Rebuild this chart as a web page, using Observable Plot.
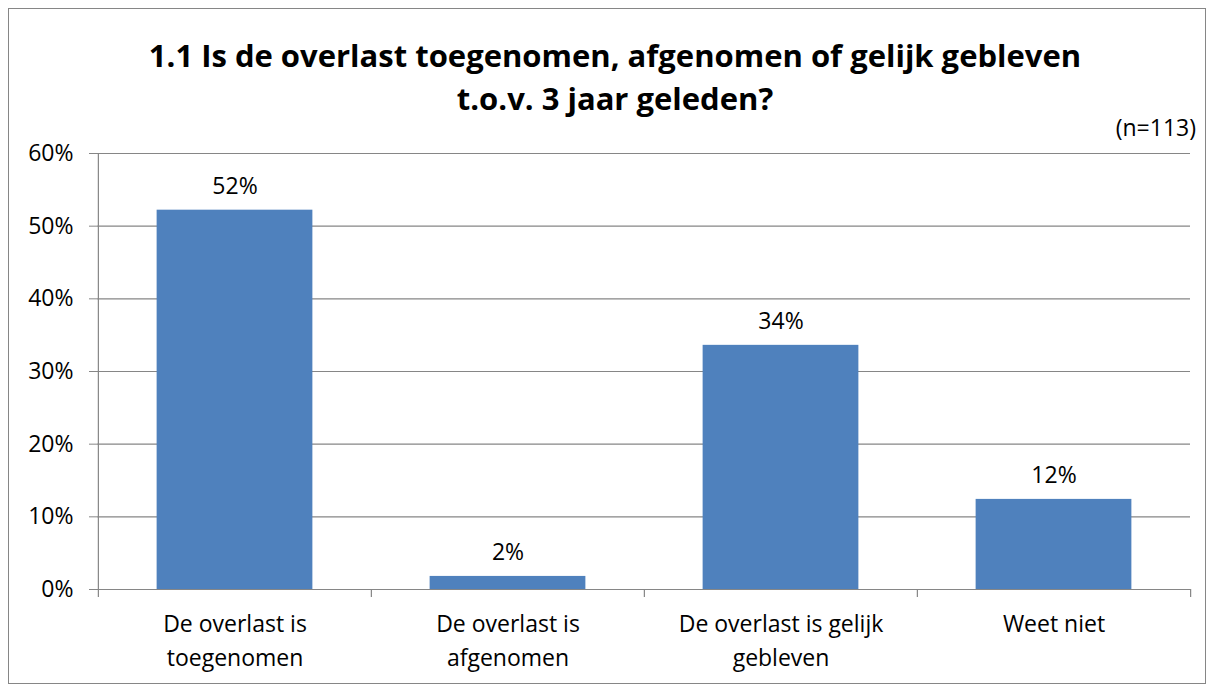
<!DOCTYPE html>
<html>
<head>
<meta charset="utf-8">
<script src="https://cdn.jsdelivr.net/npm/d3@7"></script>
<script src="https://cdn.jsdelivr.net/npm/@observablehq/plot@0.6"></script>
<style>
  body { margin: 0; background: #fff; font-family: "Open Sans", sans-serif; }
  #chart { position: relative; width: 1214px; height: 684px; overflow: hidden; background: #fff; }
  #head { position: relative; height: 120px; }
  #title { position: absolute; left: 16px; right: 0; top: 34px; text-align: center; font-weight: bold;
           font-size: 31px; line-height: 43px; color: #000; }
  #n { position: absolute; right: 18px; top: 112px; font-size: 23px; line-height: 30px; color: #000; z-index: 2; }
  #frame { position: absolute; left: 8px; top: 8px; width: 1198px; height: 676px; border: 1px solid #868686;
           box-sizing: border-box; pointer-events: none; }
  #plot { position: relative; z-index: 1; }
  svg { display: block; }
</style>
</head>
<body>
<div id="chart">
  <div id="head">
    <div id="title">1.1 Is de overlast toegenomen, afgenomen of gelijk gebleven<br>t.o.v. 3 jaar geleden?</div>
  </div>
  <div id="plot"></div>
  <div id="n">(n=113)</div>
  <div id="frame"></div>
</div>
<script>
// ---- data ----
const categories = ["toegenomen", "afgenomen", "gelijk gebleven", "weet niet"];
const categoryLabels = ["De overlast is\ntoegenomen", "De overlast is\nafgenomen", "De overlast is gelijk\ngebleven", "Weet niet"];
const values = [0.522, 0.018, 0.336, 0.124];
const valueLabels = ["52%", "2%", "34%", "12%"];
const yTicks = [0, 0.1, 0.2, 0.3, 0.4, 0.5, 0.6];

// ---- layout / style ----
const W = 1214, H = 564;
const mL = 97, mR = 24, mT = 33, mB = 95;
const bw = (W - mL - mR) / categories.length;
const barW = 156;
const inset = (bw - barW) / 2;
const grid = "#868686";
const fs = 23;

const data = categories.map((c, i) => ({cat: c, value: values[i], label: valueLabels[i]}));
const labelOf = new Map(categories.map((c, i) => [c, categoryLabels[i]]));

const plot = Plot.plot({
  width: W, height: H,
  marginLeft: mL, marginRight: mR, marginTop: mT, marginBottom: mB,
  style: {fontFamily: "'Open Sans', sans-serif", fontSize: fs + "px", color: "#000", background: "transparent"},
  x: {type: "band", domain: categories, padding: 0},
  y: {domain: [0, 0.6]},
  marks: [
    Plot.ruleY(yTicks, {stroke: grid, strokeWidth: 1.2}),
    Plot.barY(data, {x: "cat", y: "value", fill: "#4F81BD", insetLeft: inset, insetRight: inset}),
    Plot.ruleX([categories[0]], {x: d => d, dx: -bw / 2, stroke: grid, strokeWidth: 1.2}),
    Plot.ruleX(categories, {x: d => d, y1: 0, y2: 0, dx: -bw / 2, insetBottom: -8, stroke: grid, strokeWidth: 1.2}),
    Plot.ruleX([categories[categories.length - 1]], {x: d => d, y1: 0, y2: 0, dx: bw / 2, insetBottom: -8, stroke: grid, strokeWidth: 1.2}),
    Plot.text(data, {x: "cat", y: "value", text: "label", dy: -24, fontSize: fs, fill: "#000"}),
    Plot.axisY({ticks: yTicks, tickFormat: d3.format(".0%"), tickSize: 8, tickPadding: 16,
                stroke: grid, fill: "#000", fontSize: fs, label: null}),
    Plot.axisX({tickSize: 0, tickPadding: 18, tickFormat: d => labelOf.get(d), lineHeight: 1.48,
                fontSize: fs, fill: "#000", label: null})
  ]
});
document.getElementById("plot").appendChild(plot);
</script>
</body>
</html>
